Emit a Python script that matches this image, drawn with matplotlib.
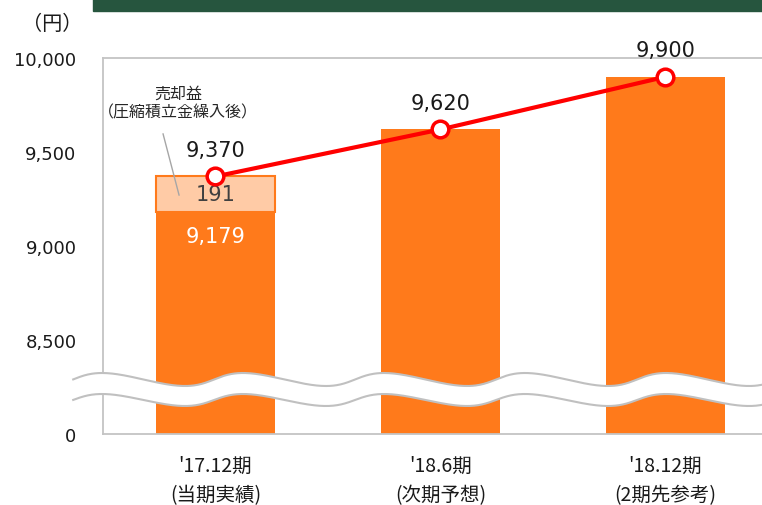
import numpy as np
import matplotlib.pyplot as plt
from matplotlib.patches import Rectangle, Polygon
from matplotlib.lines import Line2D

plt.rcParams['font.family'] = ['DejaVu Sans', 'Noto Sans CJK JP']

# data
periods = ["'17.12期", "'18.6期", "'18.12期"]
notes = ['(当期実績)', '(次期予想)', '(2期先参考)']
base_values = [9179, 9620, 9900]
gain_values = [191, 0, 0]
total_values = [9370, 9620, 9900]
y_ticks = [8000, 8500, 9000, 9500, 10000]
y_labels = ['0', '8,500', '9,000', '9,500', '10,000']

W, H = 762, 506
fig = plt.figure(figsize=(W / 100, H / 100), dpi=100)
ax = fig.add_axes([103 / W, 71 / H, 675 / W, 376 / H])

orange = '#FF7A1B'
x = np.arange(len(periods))
ax.bar(x, base_values, width=0.53, color=orange, zorder=2)
for i, g in enumerate(gain_values):
    if g > 0:
        ax.bar(x[i], g, bottom=base_values[i], width=0.53, color='#FFCBA6',
               edgecolor=orange, linewidth=1.5, zorder=2)
        ax.text(x[i], base_values[i] + g / 2, f'{g:,}', ha='center', va='center',
                fontsize=15, color='#404040', zorder=4)
        ax.annotate(f'{base_values[i]:,}', (x[i], base_values[i]), xytext=(0, -17),
                    textcoords='offset points', ha='center', va='center',
                    fontsize=15, color='white', zorder=4)

ax.plot(x, total_values, color='#FF0000', lw=3, marker='o', ms=12,
        mfc='white', mec='#FF0000', mew=2.5, zorder=5)
for xi, v in zip(x, total_values):
    ax.annotate(f'{v:,}', (xi, v), xytext=(0, 19), textcoords='offset points',
                ha='center', va='center', fontsize=15, color='#1a1a1a')

# callout for the gain segment
ax.text(-0.167, 9762, '売却益\n（圧縮積立金繰入後）', ha='center', va='center',
        fontsize=11.5, linespacing=1.15, family='Noto Sans CJK JP', color='#262626')
ax.plot([-0.233, -0.162], [9596, 9271], color='#A6A6A6', lw=1, zorder=3)

ax.set_xlim(-0.5, 2.5)
ax.set_ylim(8000, 10000)
ax.set_yticks(y_ticks)
ax.set_yticklabels(y_labels, fontsize=13, color='#1a1a1a')
ax.set_xticks(x)
ax.set_xticklabels([f'{p}\n{n}' for p, n in zip(periods, notes)], fontsize=14,
                   family='Noto Sans CJK JP', linespacing=1.5, color='#1a1a1a')
ax.tick_params(axis='y', length=0, pad=19)
ax.tick_params(axis='x', length=0, pad=15)
for s in ['left', 'bottom', 'top']:
    ax.spines[s].set_color('#C4C4C4')
    ax.spines[s].set_linewidth(1.3)
ax.spines['right'].set_visible(False)

fig.text(52 / W, 1 - 25 / H, '（円）', ha='center', va='center', fontsize=14.5,
         family='Noto Sans CJK JP', color='#1a1a1a')

# broken-axis wave (pixel space)
t = np.linspace(-1.6, 2 * np.pi * 5, 800)
wx = 102 + 141 * t / (2 * np.pi) + 12.5 * (1 - np.cos(t)) / 2
up = 380.5 - 6.5 * np.cos(t)
lo = 401 - 6 * np.cos(t)
keep = wx >= 73
wx, up, lo = wx[keep], up[keep], lo[keep]
fx = wx / W
verts = np.concatenate([np.column_stack([fx, 1 - up / H]),
                        np.column_stack([fx[::-1], 1 - lo[::-1] / H])])
fig.add_artist(Polygon(verts, closed=True, transform=fig.transFigure,
                       facecolor='white', edgecolor='none', zorder=2))
for yy in (up, lo):
    fig.add_artist(Line2D(fx, 1 - yy / H, transform=fig.transFigure,
                          color='#C0C0C0', lw=1.5, zorder=3))

# header banner
fig.add_artist(Rectangle((93 / W, 1 - 12 / H), 1, 12 / H, transform=fig.transFigure,
                         color='#26553E', zorder=3))

fig.savefig('out.png', dpi=100)
